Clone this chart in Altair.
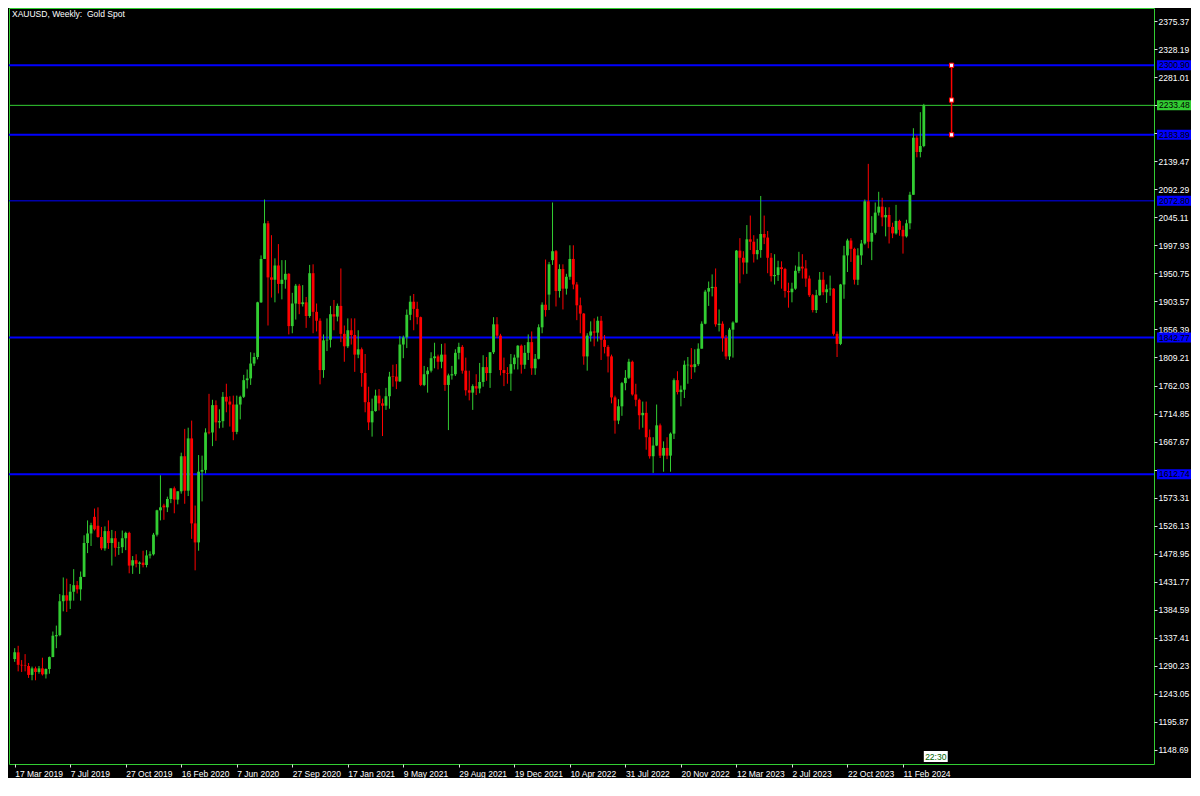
import altair as alt
import pandas as pd

# ---------------- data ----------------
opens = [1302,1313,1292,1291,1290,1275,1286,1280,1286,1276,1285,1305,1340,1342,1399,1409,1400,1415,1426,1419,
         1440,1497,1513,1541,1526,1507,1488,1517,1497,1505,1489,1490,1505,1514,1459,1468,1462,1464,1460,1476,
         1478,1511,1552,1560,1557,1571,1589,1570,1584,1643,1585,1673,1530,1498,1617,1620,1684,1683,1729,1700,
         1702,1743,1735,1730,1684,1730,1743,1771,1774,1799,1810,1902,1975,2035,1944,1940,1964,1933,1940,1950,
         1862,1900,1930,1899,1902,1879,1951,1886,1871,1788,1838,1839,1882,1878,1896,1849,1828,1855,1847,1814,
         1823,1783,1734,1700,1719,1745,1732,1728,1744,1778,1777,1769,1831,1843,1881,1903,1891,1877,1763,1781,
         1787,1808,1811,1802,1814,1763,1779,1781,1817,1827,1787,1754,1750,1761,1757,1768,1793,1783,1818,1865,
         1846,1788,1783,1782,1798,1809,1829,1797,1817,1835,1791,1807,1860,1898,1915,1973,1988,1921,1958,1925,
         1945,1975,1932,1897,1883,1811,1846,1853,1851,1871,1839,1827,1811,1742,1703,1727,1766,1775,1802,1747,
         1738,1712,1716,1675,1643,1661,1695,1644,1657,1644,1681,1771,1751,1755,1796,1797,1793,1798,1824,1866,
         1920,1926,1928,1864,1866,1842,1811,1856,1868,1989,1977,1969,2008,2004,1983,1990,2017,2011,1977,1946,
         1948,1961,1958,1921,1919,1925,1955,1962,1959,1942,1914,1889,1914,1940,1919,1924,1925,1849,1832,1932,
         1981,2006,1992,1940,1981,2001,2072,2004,2019,2053,2063,2045,2049,2029,2018,2039,2024,2013,2035,2083,
         2179,2155,2165]
highs = [1320,1324,1300,1310,1295,1289,1289,1290,1304,1286,1306,1348,1358,1411,1439,1437,1428,1453,1433,1449,
         1510,1535,1531,1555,1557,1524,1525,1535,1519,1517,1499,1518,1516,1516,1475,1478,1466,1484,1485,1483,
         1514,1553,1611,1563,1575,1589,1592,1584,1649,1689,1691,1703,1560,1645,1644,1690,1748,1738,1737,1722,
         1751,1765,1744,1745,1745,1745,1780,1789,1818,1817,1903,1981,2075,2039,2015,1976,2000,1973,1973,1951,
         1918,1933,1933,1931,1911,1965,1966,1900,1875,1848,1875,1896,1906,1900,1959,1863,1875,1875,1875,1855,
         1826,1815,1760,1740,1755,1756,1740,1758,1785,1797,1798,1845,1846,1890,1913,1916,1903,1878,1795,1793,
         1818,1834,1814,1832,1833,1782,1795,1823,1834,1830,1809,1787,1764,1781,1800,1813,1810,1818,1877,1877,
         1849,1809,1793,1815,1814,1830,1831,1830,1848,1853,1815,1865,1902,1974,1970,2070,1990,1966,1966,1950,
         1998,1998,1936,1910,1884,1850,1870,1875,1878,1879,1847,1830,1814,1745,1739,1768,1788,1807,1804,1765,
         1740,1735,1735,1688,1675,1730,1698,1668,1675,1683,1774,1786,1762,1804,1810,1825,1823,1833,1870,1923,
         1937,1949,1959,1890,1870,1847,1859,1870,1990,2010,1988,2032,2048,2015,2009,2081,2048,2022,1985,1983,
         1972,1971,1960,1935,1935,1964,1987,1983,1973,1947,1916,1923,1953,1953,1932,1947,1926,1853,1933,1997,
         2009,2010,1994,1993,2007,2075,2135,2047,2070,2088,2078,2062,2062,2036,2066,2041,2031,2041,2088,2195,
         2183,2222,2236]
lows = [1297,1281,1280,1281,1270,1266,1266,1277,1274,1269,1277,1305,1320,1340,1382,1381,1386,1400,1412,1400,
        1440,1480,1492,1518,1506,1485,1484,1487,1459,1474,1477,1480,1485,1446,1445,1456,1445,1456,1456,1471,
        1476,1508,1535,1536,1549,1564,1547,1562,1580,1563,1576,1504,1451,1484,1567,1614,1680,1660,1669,1690,
        1691,1717,1693,1670,1680,1705,1741,1757,1763,1795,1806,1901,1975,1863,1910,1902,1917,1907,1925,1848,
        1850,1873,1882,1895,1859,1876,1850,1853,1764,1775,1820,1826,1855,1870,1835,1802,1825,1831,1785,1808,
        1760,1717,1687,1676,1718,1720,1677,1721,1723,1760,1756,1768,1808,1825,1872,1855,1865,1761,1761,1750,
        1784,1791,1789,1791,1753,1687,1772,1778,1806,1782,1745,1737,1721,1746,1749,1760,1770,1758,1815,1842,
        1779,1761,1765,1753,1789,1789,1782,1790,1805,1780,1780,1806,1850,1878,1889,1965,1895,1910,1890,1915,
        1940,1924,1872,1850,1797,1787,1836,1828,1836,1805,1816,1784,1732,1681,1697,1711,1754,1773,1745,1727,
        1688,1691,1654,1639,1615,1660,1640,1617,1638,1617,1672,1747,1727,1741,1765,1773,1784,1795,1824,1865,
        1896,1912,1861,1853,1819,1806,1805,1809,1868,1934,1949,1950,1990,1969,1974,1977,2000,1951,1937,1932,
        1938,1925,1910,1893,1902,1923,1951,1942,1928,1911,1885,1884,1913,1914,1901,1913,1846,1810,1830,1908,
        1953,1970,1932,1931,1965,1999,1993,1973,2016,2048,2030,2013,2001,2010,2016,2014,1984,2011,2025,2083,
        2146,2146,2163]
closes = [1313,1292,1291,1290,1275,1286,1280,1286,1276,1285,1305,1341,1342,1399,1409,1400,1415,1426,1419,1440,
          1497,1513,1527,1520,1507,1488,1517,1497,1505,1489,1490,1505,1514,1459,1468,1462,1464,1460,1476,1478,
          1511,1552,1557,1557,1571,1589,1570,1584,1643,1585,1673,1530,1498,1617,1620,1683,1683,1729,1700,1702,
          1743,1735,1730,1684,1730,1743,1771,1774,1799,1810,1902,1975,2035,1944,1940,1964,1933,1940,1950,1862,
          1900,1930,1899,1902,1879,1951,1886,1871,1788,1838,1839,1882,1878,1896,1849,1828,1855,1847,1814,1823,
          1783,1734,1700,1719,1745,1732,1728,1744,1777,1777,1769,1831,1843,1881,1903,1891,1877,1763,1781,1787,
          1808,1811,1802,1814,1763,1779,1781,1817,1827,1787,1754,1750,1761,1757,1768,1793,1783,1818,1865,1846,
          1788,1783,1782,1798,1809,1829,1797,1817,1835,1791,1807,1860,1898,1889,1966,1988,1921,1958,1925,1945,
          1975,1932,1897,1883,1811,1846,1853,1851,1871,1839,1827,1811,1742,1703,1727,1766,1775,1802,1747,1738,
          1712,1716,1675,1643,1661,1695,1644,1657,1644,1681,1771,1751,1755,1797,1797,1793,1798,1824,1866,1920,
          1926,1928,1865,1866,1842,1811,1856,1868,1989,1977,1969,2008,2004,1983,1990,2017,2011,1977,1946,1948,
          1961,1958,1921,1919,1925,1955,1962,1959,1942,1914,1889,1914,1940,1919,1924,1925,1849,1832,1932,1981,
          2006,1992,1940,1981,2001,2072,2004,2019,2053,2063,2045,2049,2029,2018,2039,2024,2013,2035,2083,2179,
          2155,2165,2233.48]

x_tick_labels = ["17 Mar 2019", "7 Jul 2019", "27 Oct 2019", "16 Feb 2020", "7 Jun 2020",
                 "27 Sep 2020", "17 Jan 2021", "9 May 2021", "29 Aug 2021", "19 Dec 2021",
                 "10 Apr 2022", "31 Jul 2022", "20 Nov 2022", "12 Mar 2023", "2 Jul 2023",
                 "22 Oct 2023", "11 Feb 2024"]
bars_per_x_tick = 16
y_tick_values = [1148.69, 1195.87, 1243.05, 1290.23, 1337.41, 1384.59, 1431.77, 1478.95,
                 1526.13, 1573.31, 1620.49, 1667.67, 1714.85, 1762.03, 1809.21, 1856.39,
                 1903.57, 1950.75, 1997.93, 2045.11, 2092.29, 2139.47, 2186.65, 2233.83,
                 2281.01, 2328.19, 2375.37]
# tick labels hidden behind the price-line labels in the chart
hidden_tick_labels = [1620.49, 2186.65, 2233.83]

level_prices = [2300.90, 2183.89, 2072.80, 1842.77, 1612.74]
level_widths = [2, 2, 1, 2, 2]
bid_price = 2233.48
trend_top = 2300.90
trend_bottom = 2183.89
trend_bar = 270
title_text = "XAUUSD, Weekly:\u00a0\u00a0Gold Spot"
time_text = "22:30"

# ---------------- layout / style ----------------
W, H = 1145, 756
GREEN = "#32CD32"
RED = "#FF0000"
BLUE = "#0000FF"
FONT = "Liberation Sans"
FS = 8.5
PX = 1.6827  # price units per pixel (for label boxes)

n = len(closes)
df = pd.DataFrame({
    "idx": list(range(n)),
    "open": opens, "high": highs, "low": lows, "close": closes,
})
df["dir"] = ["up" if c >= o else "down" for o, c in zip(opens, closes)]

x_label_expr = "[" + ",".join("'" + s + "'" for s in x_tick_labels) + "][round(datum.value / %d)]" % bars_per_x_tick
y_label_expr = " || ".join("abs(datum.value - %.2f) < 0.001" % v for v in hidden_tick_labels) + \
    " ? '' : format(datum.value, '.2f')"

x_scale = alt.Scale(domain=[-0.2, 326.9], nice=False, zero=False)
x_axis = alt.Axis(values=[i * bars_per_x_tick for i in range(len(x_tick_labels))],
                  labelExpr=x_label_expr, labelAlign="left", labelFlush=False,
                  labelOverlap=False, tickSize=3, labelPadding=2, title=None,
                  labelBaseline="top")
y_scale = alt.Scale(domain=[1125.1, 2397.3], nice=False, zero=False)
y_axis = alt.Axis(orient="right", values=y_tick_values, labelExpr=y_label_expr, tickSize=3,
                  labelPadding=1, labelFlush=False, labelOverlap=False, title=None,
                  labelBaseline="middle")


def X(field):
    return alt.X(field, type="quantitative", scale=x_scale, axis=x_axis, title=None)


def Y(field):
    return alt.Y(field, type="quantitative", scale=y_scale, axis=y_axis, title=None)


candle_color = alt.Color("dir:N", scale=alt.Scale(domain=["up", "down"], range=[GREEN, RED]), legend=None)

base = alt.Chart(df)
wicks = base.mark_rule(strokeWidth=1).encode(x=X("idx"), y=Y("low"), y2="high", color=candle_color)
bodies = base.mark_bar(size=2.8, strokeWidth=0).encode(x=X("idx"), y=Y("open"), y2="close", color=candle_color)

lv = pd.DataFrame({"price": level_prices, "w": level_widths,
                   "label": ["%.2f" % p for p in level_prices], "fill": [BLUE] * len(level_prices)})
levels = alt.Chart(lv).mark_rule(color=BLUE).encode(
    y=Y("price"), strokeWidth=alt.StrokeWidth("w:Q", scale=None))

bid_df = pd.DataFrame({"price": [bid_price], "label": ["%.2f" % bid_price], "fill": [GREEN], "w": [1]})
bid_line = alt.Chart(bid_df).mark_rule(color=GREEN, strokeWidth=1).encode(y=Y("price"))

boxes_df = pd.concat([lv, bid_df], ignore_index=True)
boxes = alt.Chart(boxes_df).transform_calculate(
    lo="datum.price - %f" % (5 * PX), hi="datum.price + %f" % (5 * PX)
).mark_rect().encode(
    x=alt.value(W + 3), x2=alt.value(W + 37), y=Y("lo:Q"), y2="hi:Q",
    color=alt.Color("fill:N", scale=None))
box_text = alt.Chart(boxes_df).mark_text(align="left", baseline="middle", font=FONT,
                                         fontSize=FS, color="#000000").encode(
    x=alt.value(W + 5), y=Y("price"), text="label:N")

trend_df = pd.DataFrame({"idx": [trend_bar], "top": [trend_top], "bottom": [trend_bottom]})
trend = alt.Chart(trend_df).mark_rule(color=RED, strokeWidth=1.5).encode(
    x=X("idx"), y=Y("top"), y2="bottom")
tp_df = pd.DataFrame({"idx": [trend_bar] * 3,
                      "price": [trend_top, (trend_top + trend_bottom) / 2, trend_bottom]})
trend_pts = alt.Chart(tp_df).mark_point(shape="square", filled=True, fill="#FFFFFF", stroke=RED,
                                        strokeWidth=1, size=18, opacity=1).encode(
    x=X("idx"), y=Y("price"))

title_df = pd.DataFrame({"t": [title_text]})
title = alt.Chart(title_df).mark_text(align="left", baseline="top", font=FONT, fontSize=FS,
                                      color="#FFFFFF").encode(
    x=alt.value(3), y=alt.value(2), text="t:N")

last = n - 1
time_df = pd.DataFrame({"x0": [last], "x1": [last + 6.9], "xm": [last + 3.45], "t": [time_text]})
time_box = alt.Chart(time_df).mark_rect(color="#FFFFFF").encode(
    x=X("x0"), x2="x1", y=alt.value(H - 13), y2=alt.value(H - 2))
time_txt = alt.Chart(time_df).mark_text(align="center", baseline="middle", font=FONT, fontSize=FS,
                                        color="#006400").encode(
    x=X("xm"), y=alt.value(H - 7.5), text="t:N")

chart = alt.layer(
    levels, bid_line, wicks, bodies, trend, trend_pts, boxes, box_text, title, time_box, time_txt
).properties(
    width=W, height=H, padding=0, background="#000000"
).configure_view(
    stroke=GREEN, strokeWidth=1, fill="#000000"
).configure_axis(
    domain=False, grid=False, labelColor="#FFFFFF", tickColor="#DDDDDD",
    labelFont=FONT, labelFontSize=FS, tickWidth=1
)

chart.save("out.html", embed_options={"renderer": "svg", "actions": False})
